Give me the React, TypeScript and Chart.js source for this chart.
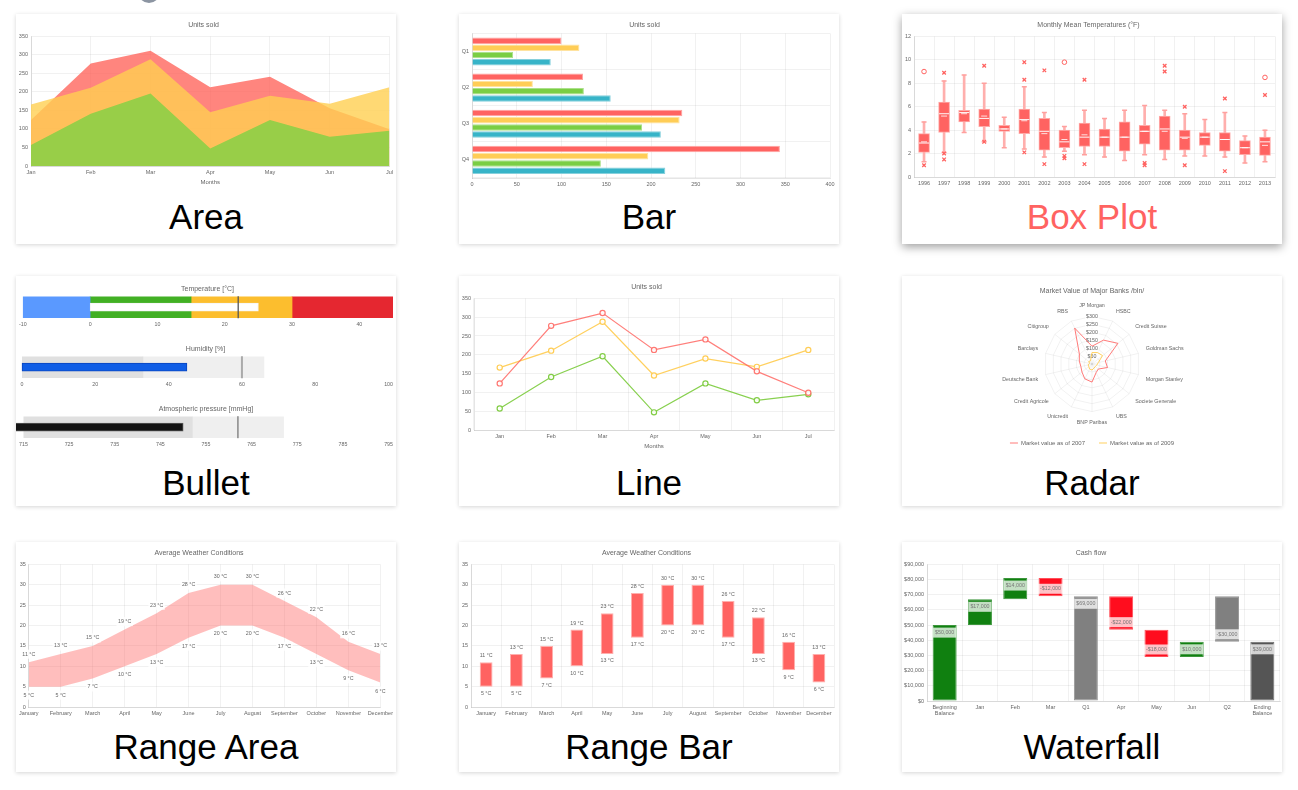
import React, { useEffect, useRef } from 'react';
import { Chart, registerables } from 'chart.js';

Chart.register(...registerables);
Chart.defaults.font.family = "'Liberation Sans', Arial, Helvetica, sans-serif";
Chart.defaults.font.size = 5.5;
Chart.defaults.color = '#666';
(Chart.defaults as any).layout.autoPadding = false;

// ---------------- DATA ----------------
const months = ['Jan', 'Feb', 'Mar', 'Apr', 'May', 'Jun', 'Jul'];
const unitsRed = [124, 277, 311, 213, 241, 156, 99];
const unitsYellow = [166, 211, 288, 145, 190, 168, 213];
const unitsGreen = [57, 141, 196, 47, 124, 79, 95];

const quarters = ['Q1', 'Q2', 'Q3', 'Q4'];
const qRed = [100, 124, 235, 344];
const qYellow = [120, 68, 232, 197];
const qGreen = [46, 125, 190, 144];
const qBlue = [88, 155, 211, 216];

const boxYears = ['1996', '1997', '1998', '1999', '2000', '2001', '2002', '2003', '2004', '2005', '2006', '2007', '2008', '2009', '2010', '2011', '2012', '2013'];
const boxMin = [1.3, 2.1, 3.8, 3.0, 2.5, 2.4, 1.7, 2.2, 1.9, 1.7, 1.4, 1.9, 1.5, 1.8, 1.8, 1.7, 1.2, 1.3];
const boxQ1 = [2.1, 3.8, 4.7, 4.3, 3.9, 3.7, 2.3, 2.5, 2.6, 2.6, 2.2, 2.8, 2.3, 2.3, 2.7, 2.2, 1.9, 1.85];
const boxMedian = [2.9, 5.4, 5.5, 5.0, 4.1, 4.9, 3.9, 3.0, 3.4, 3.4, 3.4, 3.9, 4.1, 3.4, 3.4, 3.2, 2.5, 3.0];
const boxMean = [3.0, 5.2, 5.4, 5.2, 4.1, 4.8, 3.7, 3.2, 3.6, 3.4, 3.4, 3.9, 3.9, 3.3, 3.4, 3.2, 2.5, 2.7];
const boxQ3 = [3.7, 6.4, 5.7, 5.8, 4.4, 5.8, 5.0, 4.0, 4.6, 4.1, 4.7, 4.4, 5.2, 4.0, 3.8, 3.8, 3.1, 3.4];
const boxMax = [4.7, 8.2, 8.7, 8.0, 5.1, 7.7, 5.5, 4.3, 5.7, 5.0, 5.7, 6.1, 5.7, 5.4, 4.9, 5.5, 3.5, 4.0];
const circleOutlierYears = ['1996', '2003', '2013'];
const circleOutlierValues = [9.0, 9.8, 8.5];
const crossOutlierYears = ['1996', '1997', '1997', '1997', '1999', '1999', '2001', '2001', '2001', '2002', '2002', '2003', '2003', '2004', '2004', '2007', '2007', '2008', '2008', '2009', '2009', '2011', '2011', '2013'];
const crossOutlierValues = [1.0, 8.9, 2.0, 1.5, 9.5, 3.0, 9.8, 8.3, 2.1, 9.1, 1.1, 1.8, 1.6, 8.3, 1.1, 1.2, 1.0, 9.5, 9.0, 6.0, 1.0, 6.7, 0.5, 7.0];

const tempBands = [-10, 0, 15, 30, 45];
const tempValue = 25;
const tempTarget = 22;
const humidityBands = [0, 33, 66];
const humidityValue = 45;
const humidityTarget = 60;
const pressureBands = [715, 752, 772];
const pressureValue = 750;
const pressureTarget = 762;

const bankNames = ['JP Morgan', 'HSBC', 'Credit Suisse', 'Goldman Sachs', 'Morgan Stanley', 'Societe Generale', 'UBS', 'BNP Paribas', 'Unicredit', 'Credit Agricole', 'Deutsche Bank', 'Barclays', 'Citigroup', 'RBS'];
const bank2007 = [112, 167, 209, 86, 100, 51, 60, 114, 104, 81, 72, 82, 102, 251];
const bank2009 = [72, 80, 85, 41, 31, 26, 29, 38, 35, 26, 25, 16, 26, 22];

const fullMonths = ['January', 'February', 'March', 'April', 'May', 'June', 'July', 'August', 'September', 'October', 'November', 'December'];
const tempHigh = [11, 13, 15, 19, 23, 28, 30, 30, 26, 22, 16, 13];
const tempLow = [5, 5, 7, 10, 13, 17, 20, 20, 17, 13, 9, 6];

const cashLabels = [['Beginning', 'Balance'], 'Jan', 'Feb', 'Mar', 'Q1', 'Apr', 'May', 'Jun', 'Q2', ['Ending', 'Balance']];
const cashStart = [0, 50000, 67000, 81000, 0, 69000, 47000, 29000, 69000, 0];
const cashEnd = [50000, 67000, 81000, 69000, 69000, 47000, 29000, 39000, 39000, 39000];
const cashKinds = ['up', 'up', 'up', 'down', 'total', 'down', 'down', 'up', 'total', 'end'];

// ---------------- STYLE HELPERS ----------------
const GRID = 'rgba(0,0,0,0.055)';
const FONT = "'Liberation Sans', Arial, Helvetica, sans-serif";
const RED = 'rgb(255,99,97)';

const titleOpts = (text: string, top = 7, bottom = 7) => ({
  display: true,
  text,
  color: '#666',
  font: { size: 7, weight: 'normal' as const },
  padding: { top, bottom },
});

const baseOpts = (extra: any) => ({
  responsive: false,
  animation: false,
  events: [],
  ...extra,
});

function boxedText(ctx: CanvasRenderingContext2D, text: string, x: number, y: number, bg: string | null, size = 5.3) {
  ctx.save();
  ctx.font = `${size}px ${FONT}`;
  const w = ctx.measureText(text).width;
  if (bg) {
    ctx.fillStyle = bg;
    ctx.fillRect(x - w / 2 - 1.5, y - 4.5, w + 3, 9);
  }
  ctx.fillStyle = '#666';
  ctx.textAlign = 'center';
  ctx.textBaseline = 'middle';
  ctx.fillText(text, x, y);
  ctx.restore();
}

const catTicks = { autoSkip: false, maxRotation: 0, padding: 3 };

// ---------------- CONFIGS ----------------
const areaConfig = (): any => ({
  type: 'line',
  data: {
    labels: months,
    datasets: [
      { data: unitsGreen, fill: 'origin', backgroundColor: 'rgb(152,206,72)', borderColor: 'rgba(0,0,0,0)', pointRadius: 0 },
      { data: unitsYellow, fill: 'origin', backgroundColor: 'rgba(255,207,81,0.8)', borderColor: 'rgba(0,0,0,0)', pointRadius: 0 },
      { data: unitsRed, fill: 'origin', backgroundColor: 'rgba(255,99,90,0.78)', borderColor: 'rgba(0,0,0,0)', pointRadius: 0 },
    ],
  },
  options: baseOpts({
    layout: { padding: { right: 5 } },
    elements: { line: { tension: 0 } },
    plugins: { legend: { display: false }, tooltip: { enabled: false }, title: titleOpts('Units sold') },
    scales: {
      x: {
        grid: { color: GRID, drawTicks: false },
        ticks: catTicks,
        title: { display: true, text: 'Months', font: { size: 6 }, padding: { top: 2, bottom: 4 } },
        afterFit: (s: any) => { s.height = 24; },
      },
      y: {
        min: 0, max: 350,
        grid: { color: GRID, drawTicks: false },
        ticks: { stepSize: 50, padding: 3 },
        afterFit: (s: any) => { s.width = 15; },
      },
    },
  }),
});

const barConfig = (): any => ({
  type: 'bar',
  data: {
    labels: quarters,
    datasets: [
      { data: qRed, backgroundColor: 'rgb(255,99,97)', borderColor: '#ffa3a1', borderWidth: 1 },
      { data: qYellow, backgroundColor: 'rgb(255,205,86)', borderColor: '#ffe3a0', borderWidth: 1 },
      { data: qGreen, backgroundColor: 'rgb(122,206,68)', borderColor: '#abe08a', borderWidth: 1 },
      { data: qBlue, backgroundColor: 'rgb(55,180,200)', borderColor: '#86d0dc', borderWidth: 1 },
    ],
  },
  options: baseOpts({
    indexAxis: 'y',
    layout: { padding: { right: 9 } },
    plugins: { legend: { display: false }, tooltip: { enabled: false }, title: titleOpts('Units sold', 7, 4) },
    scales: {
      x: {
        min: 0, max: 400,
        grid: { color: GRID, drawTicks: false },
        ticks: { stepSize: 50, padding: 3 },
        afterFit: (s: any) => { s.height = 12; },
      },
      y: {
        grid: { color: GRID, drawTicks: false },
        ticks: catTicks,
        afterFit: (s: any) => { s.width = 13; },
      },
    },
  }),
});

const boxConfig = (): any => ({
  type: 'bar',
  data: {
    labels: boxYears,
    datasets: [
      {
        type: 'scatter',
        data: circleOutlierYears.map((y, i) => ({ x: y, y: circleOutlierValues[i] })),
        pointStyle: 'circle', pointRadius: 2.3, pointBorderWidth: 1,
        pointBorderColor: RED, pointBackgroundColor: '#fff',
      },
      {
        type: 'scatter',
        data: crossOutlierYears.map((y, i) => ({ x: y, y: crossOutlierValues[i] })),
        pointStyle: 'crossRot', pointRadius: 2.5, pointBorderWidth: 1.3,
        pointBorderColor: RED, pointBackgroundColor: RED,
      },
      {
        type: 'scatter',
        data: boxYears.map((y, i) => ({ x: y, y: boxMedian[i] })),
        pointStyle: 'line', pointRadius: 5, pointBorderWidth: 1,
        pointBorderColor: 'rgba(255,255,255,0.95)',
      },
      {
        type: 'scatter',
        data: boxYears.map((y, i) => ({ x: y, y: boxMean[i] })),
        pointStyle: 'line', pointRadius: 3, pointBorderWidth: 1,
        pointBorderColor: 'rgba(255,255,255,0.8)',
      },
      {
        type: 'bar',
        data: boxYears.map((_, i) => [boxQ1[i], boxQ3[i]]),
        backgroundColor: RED, borderColor: 'rgb(255,170,168)', borderWidth: 1,
        borderSkipped: false, barThickness: 11, grouped: false,
      },
      {
        type: 'scatter',
        data: [...boxYears.map((y, i) => ({ x: y, y: boxMin[i] })), ...boxYears.map((y, i) => ({ x: y, y: boxMax[i] }))],
        pointStyle: 'line', pointRadius: 2.5, pointBorderWidth: 1.5,
        pointBorderColor: 'rgb(255,160,158)',
      },
      {
        type: 'bar',
        data: boxYears.map((_, i) => [boxMin[i], boxMax[i]]),
        backgroundColor: 'rgb(255,175,173)', borderWidth: 0, barThickness: 2, grouped: false,
      },
    ],
  },
  options: baseOpts({
    layout: { padding: { right: 7 } },
    plugins: { legend: { display: false }, tooltip: { enabled: false }, title: titleOpts('Monthly Mean Temperatures (°F)') },
    scales: {
      x: {
        type: 'category',
        grid: { color: GRID, drawTicks: false },
        ticks: catTicks,
        afterFit: (s: any) => { s.height = 12; },
      },
      y: {
        type: 'linear',
        min: 0, max: 12,
        grid: { color: GRID, drawTicks: false },
        ticks: { stepSize: 2, padding: 3 },
        afterFit: (s: any) => { s.width = 12; },
      },
    },
  }),
});

const bulletConfig = (
  title: string, min: number, max: number, step: number,
  bands: number[], bandColors: string[],
  value: number, valueColor: string, valueBorder: string, valueBase: number | undefined,
  target: number, targetColor: string, targetWidth: number, padRight: number,
): any => ({
  type: 'bar',
  data: {
    labels: ['v'],
    datasets: [
      {
        type: 'scatter',
        data: [{ x: target, y: 'v' }],
        pointStyle: 'line', pointRotation: 90, pointRadius: 11,
        pointBorderColor: targetColor, pointBorderWidth: targetWidth,
      },
      {
        type: 'bar',
        data: [value],
        ...(valueBase !== undefined ? { base: valueBase } : {}),
        backgroundColor: valueColor, borderColor: valueBorder, borderWidth: 1,
        borderSkipped: false, barThickness: 8, grouped: false, clip: false,
      },
      ...bandColors.map((c, i) => ({
        type: 'bar',
        data: [[bands[i], bands[i + 1]]],
        backgroundColor: c, borderWidth: 0,
        barPercentage: 1, categoryPercentage: 1, grouped: false,
      })),
    ],
  },
  options: baseOpts({
    indexAxis: 'y',
    layout: { padding: { left: 6, right: padRight } },
    plugins: { legend: { display: false }, tooltip: { enabled: false }, title: titleOpts(title, 9, 3) },
    scales: {
      x: {
        type: 'linear', min, max,
        grid: { display: false, drawTicks: false },
        border: { display: false },
        ticks: { stepSize: step, padding: 3, includeBounds: false, font: { size: 5.3 }, maxRotation: 0 },
        afterFit: (s: any) => { s.height = 14; },
      },
      y: { type: 'category', display: false },
    },
  }),
});

const lineConfig = (): any => ({
  type: 'line',
  data: {
    labels: months,
    datasets: [
      { data: unitsRed, borderColor: 'rgba(255,105,100,0.85)', pointBorderColor: 'rgba(255,105,100,0.9)' },
      { data: unitsYellow, borderColor: 'rgba(255,205,86,0.95)', pointBorderColor: 'rgba(255,205,86,1)' },
      { data: unitsGreen, borderColor: 'rgba(130,205,70,0.95)', pointBorderColor: 'rgba(130,205,70,1)' },
    ],
  },
  options: baseOpts({
    layout: { padding: { right: 5 } },
    elements: {
      line: { tension: 0, borderWidth: 1.2, fill: false },
      point: { radius: 2.6, borderWidth: 1.2, backgroundColor: 'rgba(255,255,255,0.9)' },
    },
    plugins: { legend: { display: false }, tooltip: { enabled: false }, title: titleOpts('Units sold') },
    scales: {
      x: {
        offset: true,
        grid: { color: GRID, drawTicks: false, offset: true },
        ticks: catTicks,
        title: { display: true, text: 'Months', font: { size: 6 }, padding: { top: 2, bottom: 4 } },
        afterFit: (s: any) => { s.height = 24; },
      },
      y: {
        min: 0, max: 350,
        grid: { color: GRID, drawTicks: false },
        ticks: { stepSize: 50, padding: 3 },
        afterFit: (s: any) => { s.width = 15; },
      },
    },
  }),
});

const radarConfig = (): any => ({
  type: 'radar',
  data: {
    labels: bankNames,
    datasets: [
      { label: 'Market value as of 2007', data: bank2007, borderColor: 'rgba(255,99,97,0.85)', backgroundColor: 'rgba(0,0,0,0)', borderWidth: 1, pointRadius: 0, fill: false },
      { label: 'Market value as of 2009', data: bank2009, borderColor: 'rgba(255,205,86,0.95)', backgroundColor: 'rgba(0,0,0,0)', borderWidth: 1, pointRadius: 0, fill: false },
    ],
  },
  options: baseOpts({
    layout: { padding: { top: 4, bottom: 0 } },
    elements: { line: { tension: 0 } },
    plugins: {
      tooltip: { enabled: false },
      title: titleOpts('Market Value of Major Banks /bln/'),
      legend: {
        position: 'bottom',
        labels: { usePointStyle: true, pointStyle: 'line', pointStyleWidth: 8, boxHeight: 6, font: { size: 6 }, padding: 14, color: '#666' },
      },
    },
    scales: {
      r: {
        min: 0, max: 300,
        grid: { color: GRID },
        angleLines: { color: GRID },
        ticks: { stepSize: 50, callback: (v: any) => '$' + v, font: { size: 5.3 }, color: '#666', backdropColor: 'rgba(255,255,255,0.75)', backdropPadding: 1 },
        pointLabels: { font: { size: 5.3 }, color: '#666', padding: 4 },
      },
    },
  }),
});

const rangeAreaLabels = {
  id: 'rangeAreaLabels',
  afterDatasetsDraw(chart: any) {
    const ctx = chart.ctx;
    chart.getDatasetMeta(0).data.forEach((p: any, i: number) => boxedText(ctx, `${tempHigh[i]} °C`, p.x, p.y - 8, 'rgba(255,255,255,0.85)'));
    chart.getDatasetMeta(1).data.forEach((p: any, i: number) => boxedText(ctx, `${tempLow[i]} °C`, p.x, p.y + 8.5, 'rgba(255,255,255,0.85)'));
  },
};

const rangeAreaConfig = (): any => ({
  type: 'line',
  data: {
    labels: fullMonths,
    datasets: [
      { data: tempHigh, fill: '+1', backgroundColor: 'rgba(255,99,97,0.42)', borderColor: 'rgba(0,0,0,0)', pointRadius: 0 },
      { data: tempLow, fill: false, backgroundColor: 'rgba(0,0,0,0)', borderColor: 'rgba(0,0,0,0)', pointRadius: 0 },
    ],
  },
  plugins: [rangeAreaLabels],
  options: baseOpts({
    layout: { padding: { right: 14 } },
    elements: { line: { tension: 0 } },
    plugins: { legend: { display: false }, tooltip: { enabled: false }, title: titleOpts('Average Weather Conditions') },
    scales: {
      x: {
        grid: { color: GRID, drawTicks: false },
        ticks: catTicks,
        afterFit: (s: any) => { s.height = 12; },
      },
      y: {
        min: 0, max: 35,
        grid: { color: GRID, drawTicks: false },
        ticks: { stepSize: 5, padding: 3 },
        afterFit: (s: any) => { s.width = 12; },
      },
    },
  }),
});

const rangeBarLabels = {
  id: 'rangeBarLabels',
  afterDatasetsDraw(chart: any) {
    const ctx = chart.ctx;
    chart.getDatasetMeta(0).data.forEach((el: any, i: number) => {
      const { x, y, base } = el.getProps(['x', 'y', 'base'], true);
      boxedText(ctx, `${tempHigh[i]} °C`, x, y - 6.5, null);
      boxedText(ctx, `${tempLow[i]} °C`, x, base + 7, null);
    });
  },
};

const rangeBarConfig = (): any => ({
  type: 'bar',
  data: {
    labels: fullMonths,
    datasets: [
      {
        data: fullMonths.map((_, i) => [tempLow[i], tempHigh[i]]),
        backgroundColor: RED, borderColor: 'rgb(255,175,173)', borderWidth: 1, borderSkipped: false,
        barPercentage: 0.53, categoryPercentage: 0.8,
      },
    ],
  },
  plugins: [rangeBarLabels],
  options: baseOpts({
    layout: { padding: { right: 5 } },
    plugins: { legend: { display: false }, tooltip: { enabled: false }, title: titleOpts('Average Weather Conditions') },
    scales: {
      x: {
        grid: { color: GRID, drawTicks: false },
        ticks: catTicks,
        afterFit: (s: any) => { s.height = 12; },
      },
      y: {
        min: 0, max: 35,
        grid: { color: GRID, drawTicks: false },
        ticks: { stepSize: 5, padding: 3 },
        afterFit: (s: any) => { s.width = 12; },
      },
    },
  }),
});

const kindColor: Record<string, string> = { up: 'rgb(16,128,16)', down: 'rgb(255,13,30)', total: 'rgb(128,128,128)', end: 'rgb(85,85,85)' };
const kindBorder: Record<string, string> = { up: 'rgb(60,150,60)', down: 'rgb(255,80,90)', total: 'rgb(150,150,150)', end: 'rgb(110,110,110)' };

const money = (v: number) => (v < 0 ? '-' : '') + '$' + Math.abs(v).toLocaleString('en-US');

const waterfallLabels = {
  id: 'waterfallLabels',
  afterDatasetsDraw(chart: any) {
    const ctx = chart.ctx;
    chart.getDatasetMeta(0).data.forEach((el: any, i: number) => {
      const { x, y, base } = el.getProps(['x', 'y', 'base'], true);
      const diff = cashEnd[i] - cashStart[i];
      const ly = diff >= 0 ? y + 7.5 : base - 7.5;
      ctx.save();
      ctx.font = `5.3px ${FONT}`;
      const t = money(diff);
      const w = ctx.measureText(t).width;
      ctx.fillStyle = 'rgba(255,255,255,0.75)';
      ctx.fillRect(x - w / 2 - 2, ly - 5, w + 4, 10);
      ctx.fillStyle = '#777';
      ctx.textAlign = 'center';
      ctx.textBaseline = 'middle';
      ctx.fillText(t, x, ly);
      ctx.restore();
    });
  },
};

const waterfallConfig = (): any => ({
  type: 'bar',
  data: {
    labels: cashLabels,
    datasets: [
      {
        data: cashStart.map((s, i) => [s, cashEnd[i]]),
        backgroundColor: cashKinds.map((k) => kindColor[k]),
        borderColor: cashKinds.map((k) => kindBorder[k]),
        borderWidth: 1, borderSkipped: false,
        barPercentage: 0.85, categoryPercentage: 0.8,
      },
    ],
  },
  plugins: [waterfallLabels],
  options: baseOpts({
    layout: { padding: { right: 2 } },
    plugins: { legend: { display: false }, tooltip: { enabled: false }, title: titleOpts('Cash flow') },
    scales: {
      x: {
        grid: { color: GRID, drawTicks: false },
        ticks: catTicks,
        afterFit: (s: any) => { s.height = 18; },
      },
      y: {
        min: 0, max: 90000,
        grid: { color: GRID, drawTicks: false },
        ticks: { stepSize: 10000, padding: 3, callback: (v: any) => money(Number(v)) },
        afterFit: (s: any) => { s.width = 25; },
      },
    },
  }),
});

// ---------------- COMPONENTS ----------------
function ChartCanvas({ make, width, height, left = 0, top = 0 }: { make: () => any; width: number; height: number; left?: number; top?: number }) {
  const ref = useRef<HTMLCanvasElement>(null);
  useEffect(() => {
    const chart = new Chart(ref.current as HTMLCanvasElement, make());
    return () => chart.destroy();
  }, []);
  return (
    <canvas
      ref={ref}
      width={width}
      height={height}
      style={{ position: 'absolute', left, top, width, height, display: 'block' }}
    />
  );
}

function Card({ x, y, label, labelCenter, color = '#000', strong = false, children }: any) {
  return (
    <div
      style={{
        position: 'absolute', left: x, top: y, width: 380, height: 230, background: '#fff',
        boxShadow: strong ? '0 3px 9px rgba(0,0,0,0.38)' : '0 1px 4px rgba(0,0,0,0.17)',
      }}
    >
      {children}
      <div
        style={{
          position: 'absolute', left: 0, width: 380, top: labelCenter - 20, height: 40, lineHeight: '40px',
          textAlign: 'center', fontFamily: FONT, fontSize: 35, color,
        }}
      >
        {label}
      </div>
    </div>
  );
}

export default function App() {
  return (
    <div style={{ position: 'absolute', left: 0, top: 0, width: 1298, height: 790, background: '#fff', overflow: 'hidden' }}>
      <div style={{ position: 'absolute', left: 138, top: -19, width: 22, height: 22, borderRadius: '50%', background: '#8c95a2' }} />

      <Card x={16} y={14} label="Area" labelCenter={203}>
        <ChartCanvas make={areaConfig} width={380} height={176} />
      </Card>
      <Card x={459} y={14} label="Bar" labelCenter={203}>
        <ChartCanvas make={barConfig} width={380} height={176} />
      </Card>
      <Card x={902} y={14} label="Box Plot" labelCenter={203} color="rgb(255,99,97)" strong>
        <ChartCanvas make={boxConfig} width={380} height={175} />
      </Card>

      <Card x={16} y={276} label="Bullet" labelCenter={207}>
        <ChartCanvas
          make={() => bulletConfig('Temperature [°C]', -10, 45, 10, tempBands, ['rgb(90,153,255)', 'rgb(66,176,36)', 'rgb(252,190,46)', 'rgb(229,39,48)'],
            tempValue, '#ffffff', '#f4f4f4', undefined, tempTarget, '#555', 1.3, 3)}
          width={380} height={56} top={0}
        />
        <ChartCanvas
          make={() => bulletConfig('Humidity [%]', 0, 100, 20, humidityBands, ['rgb(224,224,224)', 'rgb(239,239,239)'],
            humidityValue, 'rgb(16,94,230)', 'rgb(10,70,190)', undefined, humidityTarget, '#aaa', 2, 7)}
          width={380} height={56} top={60}
        />
        <ChartCanvas
          make={() => bulletConfig('Atmospheric pressure [mmHg]', 715, 795, 10, pressureBands, ['rgb(224,224,224)', 'rgb(239,239,239)'],
            pressureValue, 'rgb(20,20,20)', 'rgb(90,90,90)', 0, pressureTarget, '#555', 1, 6)}
          width={380} height={56} top={120}
        />
      </Card>
      <Card x={459} y={276} label="Line" labelCenter={207}>
        <ChartCanvas make={lineConfig} width={380} height={178} />
      </Card>
      <Card x={902} y={276} label="Radar" labelCenter={207}>
        <ChartCanvas make={radarConfig} width={380} height={180} />
      </Card>

      <Card x={16} y={542} label="Range Area" labelCenter={205}>
        <ChartCanvas make={rangeAreaConfig} width={380} height={177} />
      </Card>
      <Card x={459} y={542} label="Range Bar" labelCenter={205}>
        <ChartCanvas make={rangeBarConfig} width={380} height={177} />
      </Card>
      <Card x={902} y={542} label="Waterfall" labelCenter={205}>
        <ChartCanvas make={waterfallConfig} width={380} height={177} />
      </Card>
    </div>
  );
}
